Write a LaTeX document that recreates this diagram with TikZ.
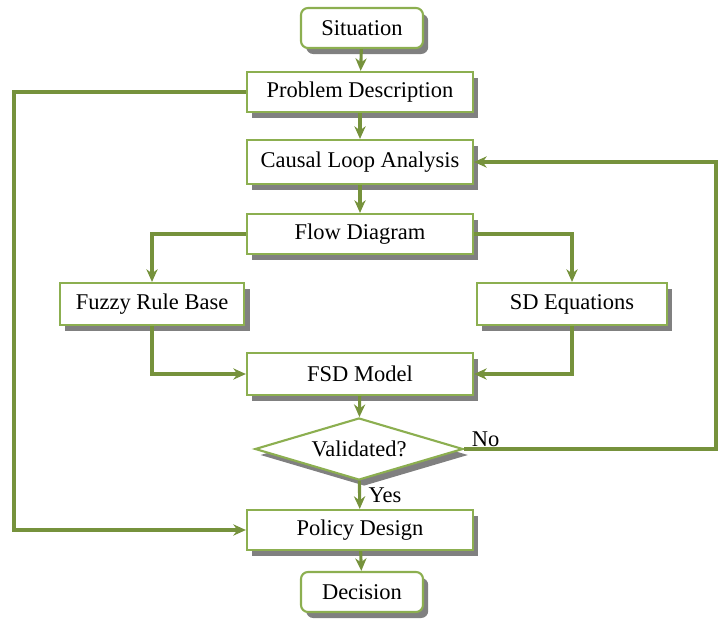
\documentclass[tikz,border=0pt]{standalone}
\usepackage{fontspec}
\setmainfont{Liberation Serif}
\usepackage{tikz}
\usetikzlibrary{arrows.meta,positioning,calc,shapes.geometric,shadows}
\definecolor{flowgreen}{RGB}{118,146,60}
\definecolor{boxgreen} {RGB}{140,175,80}
\definecolor{shadowgray}{RGB}{128,128,128}

\begin{document}
\begin{tikzpicture}[
  x=0.025cm, y=-0.025cm,
  box/.style={draw=boxgreen,line width=1.5pt,fill=white,inner sep=0pt,
              font=\fontsize{16}{19}\selectfont,
              drop shadow={shadow xshift=0.13cm,shadow yshift=-0.15cm,
                           fill=shadowgray,opacity=1}},
  term/.style={box,rounded corners=5pt,minimum width=3.05cm,minimum height=1.0cm},
  proc/.style={box,minimum width=5.65cm,minimum height=1.0cm},
  side/.style={box,minimum height=1.05cm},
  test/.style={box,diamond,aspect=3.35,minimum width=5.2cm,minimum height=1.55cm},
  arr/.style={draw=flowgreen,line width=2.2pt,-{Stealth[length=9pt,width=8pt]}},
  lbl/.style={font=\fontsize{16}{19}\selectfont},
]
\useasboundingbox (0,0) rectangle (718,619);

%% Main column
\node[term] (sit)    at (362,28)  {Situation};
\node[proc] (prob)   at (360,92)  {Problem Description};
\node[proc,minimum height=1.1cm] (causal) at (360,162) {Causal Loop Analysis};
\node[proc] (flow)   at (360,234) {Flow Diagram};

%% Two branches
\node[side,minimum width=4.62cm] (fuzzy) at (152,304) {Fuzzy Rule Base};
\node[side,minimum width=4.75cm] (sdeq)  at (572,304) {SD Equations};

\node[proc,minimum height=1.05cm] (fsd) at (360,374) {FSD Model};
\node[test] (valid)  at (359,449) {Validated?};
\node[proc] (policy) at (360,530) {Policy Design};
\node[term] (dec)    at (362,592) {Decision};

%% Loop corners
\coordinate (lft) at (14,0);
\coordinate (rgt) at (716,0);

%% Straight arrows
\draw[arr] (sit)    -- (prob);
\draw[arr] (prob)   -- (causal);
\draw[arr] (causal) -- (flow);
\draw[arr] (fsd)    -- (valid);
\draw[arr] (valid)  -- (policy);
\draw[arr] (policy) -- (dec);

%% Branches
\draw[arr] (flow.west) -| (fuzzy.north);
\draw[arr] (flow.east) -| (sdeq.north);
\draw[arr] (fuzzy.south) |- (fsd.west);
\draw[arr] (sdeq.south)  |- (fsd.east);

%% Feedback loops
\draw[arr] (prob.west) -- (prob.west -| lft) -- (policy.west -| lft) -- (policy.west);
\draw[arr] (valid.east) -- (valid.east -| rgt) -- (causal.east -| rgt) -- (causal.east);

%% Labels
\node[lbl,anchor=south west] (no)  at ([xshift=2pt,yshift=-2pt]valid.east) {No};
\node[lbl,anchor=west]       (yes) at ([xshift=3pt]$(valid.south)!0.5!(policy.north)$) {Yes};

\end{tikzpicture}
\end{document}
